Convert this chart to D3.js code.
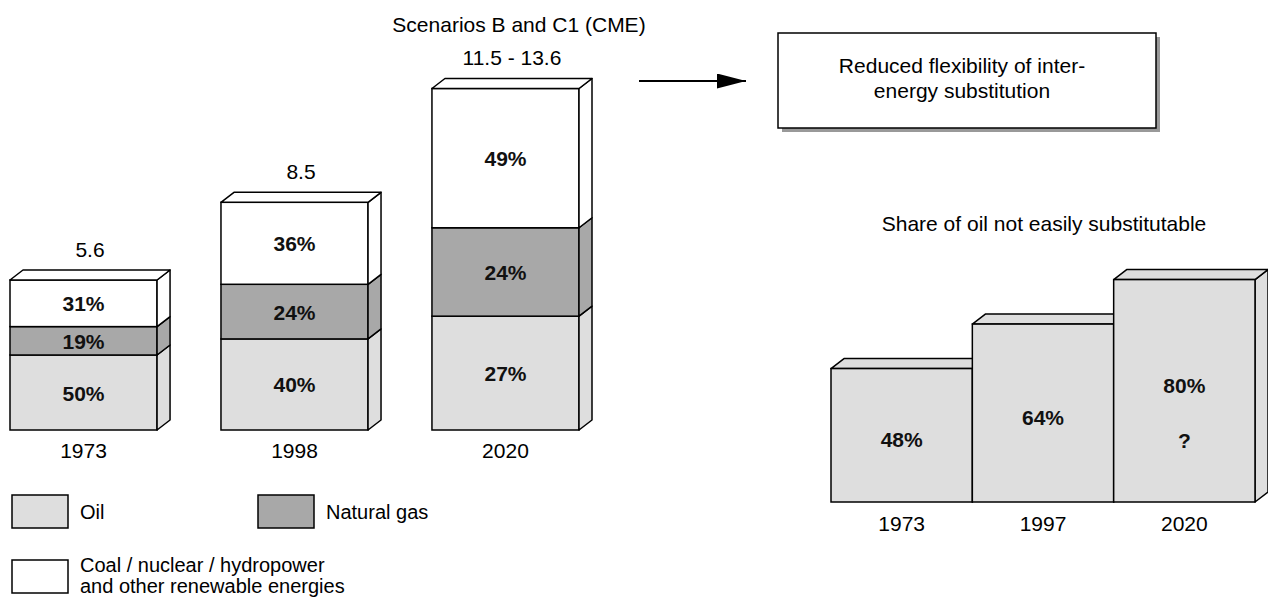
<!DOCTYPE html>
<html>
<head>
<meta charset="utf-8">
<script src="https://d3js.org/d3.v7.min.js"></script>
<style>
  body { margin: 0; background: #fff; }
  text { font-family: "Liberation Sans", Arial, sans-serif; }
</style>
</head>
<body>
<div id="chart"></div>
<script>
// left chart data (energy demand, stacked by source)
var years = ["1973", "1998", "2020"];
var totalLabels = ["5.6", "8.5", "11.5 - 13.6"];
var oilValues = [2.8, 3.4, 4.25];
var gasValues = [1.06, 2.04, 3.3];
var otherValues = [1.74, 3.06, 5.2];
var oilShare = ["50%", "40%", "27%"];
var gasShare = ["19%", "24%", "24%"];
var otherShare = ["31%", "36%", "49%"];

// right chart data (share of oil not easily substitutable)
var shareYears = ["1973", "1997", "2020"];
var shareValues = [48, 64, 80];

var width = 1268, height = 597;
var depthX = 13, depthY = 10;
var fontSize = "21px";
var oilColor = "#dedede", gasColor = "#a8a8a8", otherColor = "#ffffff";

var svg = d3.select("#chart")
    .append("svg")
    .attr("width", width)
    .attr("height", height);

// helpers for the 3d boxes
function sidePath(x, y0, y1) {
    return "M" + x + "," + y0 + "L" + (x + depthX) + "," + (y0 - depthY) +
        "L" + (x + depthX) + "," + (y1 - depthY) + "L" + x + "," + y1 + "Z";
}
function topPath(x0, x1, y) {
    return "M" + x0 + "," + y + "L" + (x0 + depthX) + "," + (y - depthY) +
        "L" + (x1 + depthX) + "," + (y - depthY) + "L" + x1 + "," + y + "Z";
}

// ---------- left stacked chart ----------
var x = d3.scaleBand()
    .domain(years)
    .range([10, 579])
    .paddingInner(0.303)
    .paddingOuter(0);

var y = d3.scaleLinear()
    .domain([0, 5.6])
    .range([430, 280]);

var stackData = years.map(function (yr, i) {
    return { year: yr, oil: oilValues[i], gas: gasValues[i], other: otherValues[i] };
});
var keys = ["oil", "gas", "other"];
var colors = { oil: oilColor, gas: gasColor, other: otherColor };
var shares = { oil: oilShare, gas: gasShare, other: otherShare };
var series = d3.stack().keys(keys)(stackData);

var left = svg.append("g");

series.forEach(function (s) {
    var g = left.append("g");
    // front faces
    g.selectAll("rect")
        .data(s)
        .enter()
        .append("rect")
        .attr("x", function (d) { return x(d.data.year) })
        .attr("y", function (d) { return y(d[1]) })
        .attr("width", x.bandwidth())
        .attr("height", function (d) { return y(d[0]) - y(d[1]) })
        .attr("fill", colors[s.key])
        .attr("stroke", "#000")
        .attr("stroke-width", 1.5);
    // side faces
    g.selectAll("path.side")
        .data(s)
        .enter()
        .append("path")
        .attr("class", "side")
        .attr("d", function (d) { return sidePath(x(d.data.year) + x.bandwidth(), y(d[1]), y(d[0])) })
        .attr("fill", colors[s.key])
        .attr("stroke", "#000")
        .attr("stroke-width", 1.5)
        .attr("stroke-linejoin", "round");
    // percent labels
    g.selectAll("text")
        .data(s)
        .enter()
        .append("text")
        .attr("x", function (d) { return x(d.data.year) + x.bandwidth() / 2 })
        .attr("y", function (d) { return (y(d[0]) + y(d[1])) / 2 + 8 })
        .attr("text-anchor", "middle")
        .attr("font-size", fontSize)
        .attr("font-weight", "bold")
        .attr("fill", "#111")
        .text(function (d, i) { return shares[s.key][i] });
});

// top faces
var topSeries = series[series.length - 1];
left.selectAll("path.top")
    .data(topSeries)
    .enter()
    .append("path")
    .attr("class", "top")
    .attr("d", function (d) { return topPath(x(d.data.year), x(d.data.year) + x.bandwidth(), y(d[1])) })
    .attr("fill", otherColor)
    .attr("stroke", "#000")
    .attr("stroke-width", 1.5)
    .attr("stroke-linejoin", "round");

// totals above the bars
left.selectAll("text.total")
    .data(topSeries)
    .enter()
    .append("text")
    .attr("class", "total")
    .attr("x", function (d) { return x(d.data.year) + x.bandwidth() / 2 + depthX / 2 })
    .attr("y", function (d) { return y(d[1]) - depthY - 13 })
    .attr("text-anchor", "middle")
    .attr("font-size", fontSize)
    .text(function (d, i) { return totalLabels[i] });

// year labels
left.selectAll("text.year")
    .data(years)
    .enter()
    .append("text")
    .attr("class", "year")
    .attr("x", function (d) { return x(d) + x.bandwidth() / 2 })
    .attr("y", y(0) + 28)
    .attr("text-anchor", "middle")
    .attr("font-size", fontSize)
    .text(function (d) { return d });

svg.append("text")
    .attr("x", 519)
    .attr("y", 32)
    .attr("text-anchor", "middle")
    .attr("font-size", fontSize)
    .text("Scenarios B and C1 (CME)");

// legend
var legend = [
    { label: ["Oil"], color: oilColor, x: 12, y: 495 },
    { label: ["Natural gas"], color: gasColor, x: 258, y: 495 },
    { label: ["Coal / nuclear / hydropower", "and other renewable energies"], color: otherColor, x: 12, y: 560 }
];
var lg = svg.selectAll("g.legend")
    .data(legend)
    .enter()
    .append("g")
    .attr("class", "legend");
lg.append("rect")
    .attr("x", function (d) { return d.x })
    .attr("y", function (d) { return d.y })
    .attr("width", 56)
    .attr("height", 33)
    .attr("fill", function (d) { return d.color })
    .attr("stroke", "#000")
    .attr("stroke-width", 1.5);
lg.each(function (d) {
    var t = d3.select(this).append("text")
        .attr("font-size", "20px");
    d.label.forEach(function (line, i) {
        t.append("tspan")
            .attr("x", d.x + 68)
            .attr("y", d.label.length > 1 ? d.y + 12 + i * 20.5 : d.y + 24)
            .text(line);
    });
});

// ---------- arrow and note box ----------
svg.append("defs").append("marker")
    .attr("id", "head")
    .attr("viewBox", "0 0 10 10")
    .attr("refX", 10)
    .attr("refY", 5)
    .attr("markerUnits", "userSpaceOnUse")
    .attr("markerWidth", 29)
    .attr("markerHeight", 15)
    .attr("orient", "auto")
    .attr("preserveAspectRatio", "none")
    .append("path")
    .attr("d", "M0,0L10,5L0,10Z")
    .attr("fill", "#000");

svg.append("line")
    .attr("x1", 639)
    .attr("y1", 81)
    .attr("x2", 746)
    .attr("y2", 81)
    .attr("stroke", "#000")
    .attr("stroke-width", 2)
    .attr("marker-end", "url(#head)");

svg.append("rect")
    .attr("x", 782)
    .attr("y", 37)
    .attr("width", 378)
    .attr("height", 95)
    .attr("fill", "#999");
svg.append("rect")
    .attr("x", 778)
    .attr("y", 33)
    .attr("width", 378)
    .attr("height", 95)
    .attr("fill", "#fff")
    .attr("stroke", "#000")
    .attr("stroke-width", 1.5);
svg.append("text")
    .attr("text-anchor", "middle")
    .attr("font-size", fontSize)
    .selectAll("tspan")
    .data(["Reduced flexibility of inter-", "energy substitution"])
    .enter()
    .append("tspan")
    .attr("x", 962)
    .attr("y", function (d, i) { return 73 + i * 25 })
    .text(function (d) { return d });

// ---------- right chart ----------
var x2 = d3.scaleBand()
    .domain(shareYears)
    .range([831, 1255])
    .padding(0);

var y2 = d3.scaleLinear()
    .domain([0, 100])
    .range([502, 224]);

var right = svg.append("g");

right.selectAll("path.side")
    .data(shareValues)
    .enter()
    .append("path")
    .attr("class", "side")
    .attr("d", function (d, i) { return sidePath(x2(shareYears[i]) + x2.bandwidth(), y2(d), y2(0)) })
    .attr("fill", oilColor)
    .attr("stroke", "#000")
    .attr("stroke-width", 1.5)
    .attr("stroke-linejoin", "round");

right.selectAll("path.top")
    .data(shareValues)
    .enter()
    .append("path")
    .attr("class", "top")
    .attr("d", function (d, i) { return topPath(x2(shareYears[i]), x2(shareYears[i]) + x2.bandwidth(), y2(d)) })
    .attr("fill", oilColor)
    .attr("stroke", "#000")
    .attr("stroke-width", 1.5)
    .attr("stroke-linejoin", "round");

right.selectAll("rect")
    .data(shareValues)
    .enter()
    .append("rect")
    .attr("x", function (d, i) { return x2(shareYears[i]) })
    .attr("y", function (d) { return y2(d) })
    .attr("width", x2.bandwidth())
    .attr("height", function (d) { return y2(0) - y2(d) })
    .attr("fill", oilColor)
    .attr("stroke", "#000")
    .attr("stroke-width", 1.5);

right.selectAll("text.val")
    .data(shareValues)
    .enter()
    .append("text")
    .attr("class", "val")
    .attr("x", function (d, i) { return x2(shareYears[i]) + x2.bandwidth() / 2 })
    .attr("y", function (d, i) { return i < 2 ? y2(d / 2) + 12 : y2(d / 2) + 2 })
    .attr("text-anchor", "middle")
    .attr("font-size", fontSize)
    .attr("font-weight", "bold")
    .attr("fill", "#111")
    .text(function (d) { return d + "%" });

// question mark for the 2020 estimate
right.append("text")
    .attr("x", x2("2020") + x2.bandwidth() / 2)
    .attr("y", y2(shareValues[2] / 2) + 57)
    .attr("text-anchor", "middle")
    .attr("font-size", fontSize)
    .attr("font-weight", "bold")
    .attr("fill", "#111")
    .text("?");

right.selectAll("text.year")
    .data(shareYears)
    .enter()
    .append("text")
    .attr("class", "year")
    .attr("x", function (d) { return x2(d) + x2.bandwidth() / 2 })
    .attr("y", y2(0) + 29)
    .attr("text-anchor", "middle")
    .attr("font-size", fontSize)
    .text(function (d) { return d });

svg.append("text")
    .attr("x", 1044)
    .attr("y", 231)
    .attr("text-anchor", "middle")
    .attr("font-size", fontSize)
    .text("Share of oil not easily substitutable");
</script>
</body>
</html>
